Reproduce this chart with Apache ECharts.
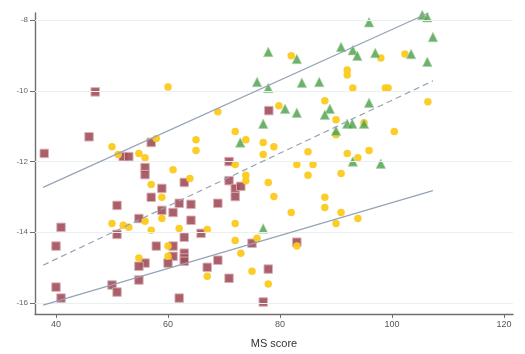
<!DOCTYPE html>
<html><head><meta charset="utf-8">
<script src="https://cdn.jsdelivr.net/npm/echarts@6/dist/echarts.min.js"></script>
<style>html,body{margin:0;padding:0;background:#fff}#c{width:525px;height:354px}</style>
</head><body><div id="c"></div>
<script>
const xTicks = [40, 60, 80, 100, 120];
const yTicks = [-16, -14, -12, -10, -8];
const xName = 'MS score';

const maroon = [[47.0,-10.03],[45.9,-11.30],[37.9,-11.77],[57.0,-11.46],[52.0,-11.86],[53.0,-11.86],[55.9,-12.17],[55.9,-12.37],[70.9,-12.00],[78.0,-10.56],[62.9,-12.59],[58.9,-12.76],[57.0,-13.01],[70.9,-12.54],[72.0,-12.76],[73.0,-12.70],[72.0,-12.99],[50.9,-13.24],[62.0,-13.18],[64.1,-13.21],[68.9,-13.18],[58.9,-13.38],[60.9,-13.44],[54.8,-13.61],[64.1,-13.66],[40.9,-13.86],[50.9,-14.06],[65.9,-14.03],[62.9,-14.14],[40.0,-14.39],[57.9,-14.39],[60.9,-14.39],[60.9,-14.68],[62.9,-14.59],[62.9,-14.73],[62.9,-14.82],[60.0,-14.87],[55.9,-14.87],[54.8,-14.96],[68.9,-14.79],[67.0,-14.99],[75.0,-14.31],[77.9,-15.04],[70.9,-15.30],[54.8,-15.35],[50.0,-15.49],[50.9,-15.69],[40.0,-15.55],[40.9,-15.86],[62.0,-15.86],[77.0,-15.97],[83.0,-14.28]];

const yellow = [[60.0,-9.89],[68.9,-10.59],[57.9,-11.35],[65.0,-11.38],[65.0,-11.69],[50.0,-11.58],[51.1,-11.80],[54.8,-11.77],[55.9,-11.89],[72.0,-11.15],[73.9,-11.38],[77.0,-11.46],[78.9,-11.58],[77.0,-11.80],[72.0,-12.08],[79.8,-10.42],[60.9,-12.23],[82.0,-9.01],[98.0,-9.07],[102.3,-8.96],[92.0,-9.41],[92.0,-9.55],[93.0,-9.92],[98.8,-9.92],[99.3,-9.92],[106.4,-10.31],[88.0,-10.28],[90.0,-10.82],[95.0,-10.90],[90.0,-11.24],[100.4,-11.15],[85.0,-11.72],[92.0,-11.77],[93.9,-11.89],[95.9,-11.69],[83.0,-12.08],[85.9,-12.08],[63.9,-12.48],[57.0,-12.65],[73.9,-12.39],[73.9,-12.54],[77.9,-12.59],[78.9,-12.99],[58.9,-13.01],[58.9,-13.61],[55.9,-13.69],[50.0,-13.75],[52.0,-13.80],[53.0,-13.86],[57.0,-13.94],[62.0,-13.89],[67.0,-13.92],[72.0,-13.75],[72.0,-14.23],[75.9,-14.17],[73.0,-14.59],[60.0,-14.39],[60.0,-14.68],[54.8,-14.73],[75.0,-15.10],[67.0,-15.24],[77.9,-15.46],[85.0,-12.39],[90.9,-12.34],[88.0,-13.01],[88.0,-13.30],[82.0,-13.44],[90.9,-13.44],[93.9,-13.61],[90.0,-13.75],[83.0,-14.39]];

const green = [[80.9,-7.78],[95.9,-8.06],[105.4,-7.86],[106.3,-7.92],[107.3,-8.48],[77.9,-8.90],[83.0,-9.10],[90.9,-8.76],[93.0,-8.85],[93.8,-9.01],[97.0,-8.93],[103.4,-8.96],[106.3,-9.18],[75.9,-9.75],[77.9,-9.92],[83.9,-9.77],[87.0,-9.75],[95.9,-10.34],[80.9,-10.51],[83.0,-10.62],[88.9,-10.51],[88.0,-10.68],[77.0,-10.93],[92.0,-10.93],[92.9,-10.93],[95.0,-10.93],[90.0,-11.13],[72.9,-11.46],[93.0,-12.00],[98.0,-12.06],[77.0,-13.89]];

const upperLine = [[37.7,-12.73],[106.5,-7.80]];
const fitLine = [[37.7,-14.93],[107.3,-9.72]];
const lowerLine = [[37.7,-16.06],[107.3,-12.82]];

const lineColor = '#94a3b6';
const chart = echarts.init(document.getElementById('c'), null, {renderer: 'canvas'});
chart.setOption({
  animation: false,
  grid: {left: 35, top: 13, right: 12, bottom: 39, containLabel: false},
  xAxis: {
    type: 'value', min: 36.25, max: 121.6,
    name: xName, nameLocation: 'middle', nameGap: 24,
    nameTextStyle: {fontFamily: 'Liberation Sans', fontSize: 11, color: '#333'},
    axisLine: {show: true, onZero: false, lineStyle: {color: '#6e6e6e', width: 1.4}},
    axisTick: {show: true, length: 4, customValues: xTicks, lineStyle: {color: '#6e6e6e'}},
    axisLabel: {customValues: xTicks, fontFamily: 'Liberation Sans', fontSize: 9, color: '#555', margin: 6},
    splitLine: {show: false}
  },
  yAxis: {
    type: 'value', min: -16.31, max: -7.80,
    axisLine: {show: true, onZero: false, lineStyle: {color: '#6e6e6e', width: 1.4}},
    axisTick: {show: true, length: 5, customValues: yTicks, lineStyle: {color: '#6e6e6e'}},
    axisLabel: {customValues: yTicks, fontFamily: 'Liberation Sans', fontSize: 8, color: '#666', margin: 7},
    splitLine: {show: false}
  },
  series: [
    {type: 'line', data: [], silent: true,
     markLine: {silent: true, symbol: 'none', label: {show: false},
       lineStyle: {color: '#e8f0f2', type: 'solid', width: 1},
       data: yTicks.map(v => ({yAxis: v}))}},
    {type: 'scatter', data: maroon, symbol: 'rect', symbolSize: 8.5,
     itemStyle: {color: '#a04f5a', borderColor: '#dcb0b6', borderWidth: 1, opacity: 0.9}},
    {type: 'scatter', data: yellow, symbol: 'circle', symbolSize: 7.5,
     itemStyle: {color: '#fcca1c', opacity: 0.95}},
    {type: 'scatter', data: green, symbol: 'triangle', symbolSize: 9.5,
     itemStyle: {color: '#4a9e48', borderColor: '#aad5a6', borderWidth: 0.8}},
    {type: 'line', data: upperLine, symbol: 'none', lineStyle: {color: lineColor, width: 1.2}, z: 5},
    {type: 'line', data: fitLine, symbol: 'none', lineStyle: {color: lineColor, width: 1.2, type: [6, 4]}, z: 5},
    {type: 'line', data: lowerLine, symbol: 'none', lineStyle: {color: lineColor, width: 1.2}, z: 5}
  ]
});
</script></body></html>
